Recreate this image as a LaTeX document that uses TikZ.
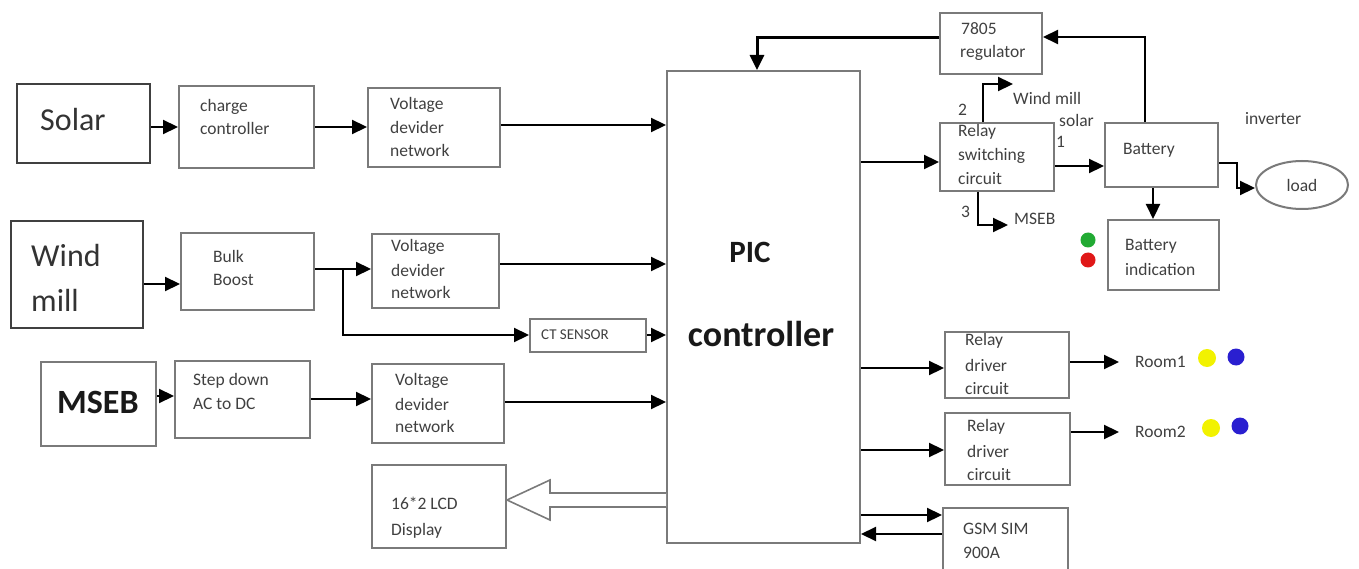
\documentclass[tikz,border=0pt]{standalone}
\usepackage{fontspec}
\setmainfont{Carlito}
\usetikzlibrary{arrows.meta,shapes.geometric}
\definecolor{txt}{HTML}{404040}
\definecolor{edge}{HTML}{7A7A7A}
\definecolor{dotgreen}{HTML}{22AA33}
\definecolor{dotred}{HTML}{E01818}
\definecolor{dotyellow}{HTML}{F2F200}
\definecolor{dotblue}{HTML}{2A1FD0}
\tikzset{
 box/.style={draw=edge, line width=2pt, inner sep=0pt, anchor=north west},
 bigbox/.style={draw=black!75, line width=2pt, inner sep=0pt, anchor=north west},
 lbl/.style={anchor=west, inner sep=0pt, text=txt, font=\fontsize{17.5}{20}\selectfont},
 biglbl/.style={anchor=west, inner sep=0pt, text=black!80, font=\fontsize{32}{36}\selectfont},
 arr/.style={line width=2.2pt, -{Triangle[length=15pt,width=14pt]}},
}
\begin{document}
\begin{tikzpicture}[x=1pt,y=-1pt]
\useasboundingbox (0,0) rectangle (1359,569);
% boxes
\node[bigbox, minimum width=133pt, minimum height=79pt] (solar) at (16,83) {};
\node[box, minimum width=135pt, minimum height=82pt] (cc) at (178,85) {};
\node[box, minimum width=132pt, minimum height=79pt] (vdn1) at (367,87) {};
\node[bigbox, minimum width=132pt, minimum height=107pt] (wind) at (10,220) {};
\node[box, minimum width=133pt, minimum height=77pt] (bulk) at (180,232) {};
\node[box, minimum width=127pt, minimum height=74pt] (vdn2) at (371,233) {};
\node[box, minimum width=116pt, minimum height=33pt] (ct) at (529,318) {};
\node[box, minimum width=115pt, minimum height=84pt] (mseb) at (40,361) {};
\node[box, minimum width=135pt, minimum height=77pt] (step) at (174,360) {};
\node[box, minimum width=132pt, minimum height=79pt] (vdn3) at (371,363) {};
\node[box, minimum width=134pt, minimum height=83pt] (lcd) at (371,464) {};
\node[box, minimum width=193pt, minimum height=472pt] (pic) at (666,70) {};
\node[box, minimum width=102pt, minimum height=61pt] (reg) at (939,12) {};
\node[box, minimum width=114pt, minimum height=68pt] (rsw) at (939,122) {};
\node[box, minimum width=113pt, minimum height=64pt] (bat) at (1104,122) {};
\node[draw=edge, line width=2pt, ellipse, minimum width=92pt, minimum height=48pt, inner sep=0pt] (load) at (1302,185) {};
\node[box, minimum width=111pt, minimum height=70pt] (bind) at (1107,219) {};
\node[box, minimum width=124pt, minimum height=66pt] (rd1) at (944,331) {};
\node[box, minimum width=125pt, minimum height=72pt] (rd2) at (944,412) {};
\node[box, minimum width=125pt, minimum height=66pt] (gsm) at (942,507) {};
% texts
\node[biglbl] (t-solar) at (40,120) {Solar};
\node[lbl] (t-cc1) at (200,107) {charge};
\node[lbl] (t-cc2) at (200,128) {controller};
\node[lbl] (t-v11) at (390,105) {Voltage};
\node[lbl] (t-v12) at (390,127) {devider};
\node[lbl] (t-v13) at (390,150) {network};
\node[biglbl] (t-wind1) at (31,255) {Wind};
\node[biglbl] (t-wind2) at (31,300) {mill};
\node[lbl] (t-b1) at (213,256) {Bulk};
\node[lbl] (t-b2) at (213,280) {Boost};
\node[lbl] (t-v21) at (391,247) {Voltage};
\node[lbl] (t-v22) at (391,270) {devider};
\node[lbl] (t-v23) at (391,292) {network};
\node[lbl, font=\fontsize{15}{18}\selectfont] (t-ct) at (541,335) {CT SENSOR};
\node[biglbl, text=black!90, font=\bfseries\fontsize{34}{38}\selectfont] (t-mseb) at (57,402) {MSEB};
\node[lbl] (t-s1) at (193,381) {Step down};
\node[lbl] (t-s2) at (193,404) {AC to DC};
\node[lbl] (t-v31) at (395,381) {Voltage};
\node[lbl] (t-v32) at (395,404) {devider};
\node[lbl] (t-v33) at (395,426) {network};
\node[lbl] (t-l1) at (391,503) {16*2 LCD};
\node[lbl] (t-l2) at (391,531) {Display};
\node[anchor=center, inner sep=0pt, text=black!90, font=\bfseries\fontsize{31}{34}\selectfont] (t-pic1) at (750,252) {PIC};
\node[anchor=center, inner sep=0pt, text=black!90, font=\bfseries\fontsize{36}{40}\selectfont] (t-pic2) at (761,334) {controller};
\node[lbl] (t-r1) at (961,29) {7805};
\node[lbl] (t-r2) at (960,53) {regulator};
\node[lbl] (t-rs1) at (958,132) {Relay};
\node[lbl] (t-rs2) at (958,156) {switching};
\node[lbl] (t-rs3) at (958,179) {circuit};
\node[lbl] (t-bat) at (1123,150) {Battery};
\node[lbl] (t-bi1) at (1125,246) {Battery};
\node[lbl] (t-bi2) at (1125,269) {indication};
\node[lbl, anchor=center] (t-load) at (1302,185) {load};
\node[lbl] (t-inv) at (1245,119) {inverter};
\node[lbl] (t-two) at (958,110) {2};
\node[lbl] (t-wm) at (1013,98) {Wind mill};
\node[lbl] (t-sol) at (1059,120) {solar};
\node[lbl] (t-one) at (1056,142) {1};
\node[lbl] (t-three) at (961,212) {3};
\node[lbl] (t-ms) at (1014,219) {MSEB};
\node[lbl] (t-d11) at (965,341) {Relay};
\node[lbl] (t-d12) at (965,365) {driver};
\node[lbl] (t-d13) at (965,389) {circuit};
\node[lbl] (t-d21) at (967,427) {Relay};
\node[lbl] (t-d22) at (967,451) {driver};
\node[lbl] (t-d23) at (967,475) {circuit};
\node[lbl] (t-g1) at (963,529) {GSM SIM};
\node[lbl] (t-g2) at (963,553) {900A};
\node[lbl] (room1) at (1135,362) {Room1};
\node[lbl] (room2) at (1135,432) {Room2};
% dots
\fill[dotgreen] (1088,240) circle (7.5);
\fill[dotred] (1088,260) circle (7.5);
\fill[dotyellow] (1207,358) circle (9);
\fill[dotblue] (1236,357) circle (8.5);
\fill[dotyellow] (1211,428) circle (9);
\fill[dotblue] (1240,426) circle (8.5);
% coordinates
\coordinate (j) at (343,269);
\coordinate (jb) at (343,335);
\coordinate (rc) at (757,38);
\coordinate (bc) at (1145,37);
\coordinate (r2) at (983,84);
\coordinate (r2e) at (1013,84);
\coordinate (r3) at (978,225);
\coordinate (r3e) at (1008,225);
\coordinate (lc1) at (1237,163);
\coordinate (lc2) at (1237,188);
% connectors left
\draw[arr] (solar.east|-0,127) -- (cc.west|-0,127);
\draw[arr] (cc.east|-0,127) -- (vdn1.west|-0,127);
\draw[arr] (vdn1.east|-0,125) -- (pic.west|-0,125);
\draw[arr] (wind.east|-0,284) -- (bulk.west|-0,284);
\draw[arr] (bulk.east|-j) -- (vdn2.west|-j);
\draw[arr] (j) -- (jb) -- (ct.west|-jb);
\draw[arr] (vdn2.east|-0,264) -- (pic.west|-0,264);
\draw[arr] (ct.east|-jb) -- (pic.west|-jb);
\draw[arr] (mseb.east|-0,396) -- (step.west|-0,396);
\draw[arr] (step.east|-0,399) -- (vdn3.west|-0,399);
\draw[arr] (vdn3.east|-0,402) -- (pic.west|-0,402);
\draw[draw=edge, line width=1.6pt, fill=white] (pic.west|-0,493) -- (550,493) -- (550,480) -- (lcd.east|-0,500) -- (550,520) -- (550,507) -- (pic.west|-0,507);
% connectors right
\draw[arr] (pic.east|-0,162) -- (rsw.west|-0,162);
\draw[arr, line width=3pt] (reg.west|-rc) -- (rc) -- (rc|-pic.north);
\draw[arr] (bc|-bat.north) -- (bc) -- (reg.east|-bc);
\draw[arr] (rsw.east|-0,166) -- (bat.west|-0,166);
\draw[arr] (r2|-rsw.north) -- (r2) -- (r2e);
\draw[arr] (r3|-rsw.south) -- (r3) -- (r3e);
\draw[arr] (bat.east|-lc1) -- (lc1) -- (lc2) -- (load.west|-lc2);
\draw[arr] (bat.south-|1153,0) -- (bind.north-|1153,0);
\draw[arr] (pic.east|-0,368) -- (rd1.west|-0,368);
\draw[arr] (pic.east|-0,450) -- (rd2.west|-0,450);
\draw[arr, shorten >=16pt] (rd1.east|-room1) -- (room1.west);
\draw[arr, shorten >=16pt] (rd2.east|-room2) -- (room2.west);
\draw[arr] (pic.east|-0,515) -- (gsm.west|-0,515);
\draw[arr] (gsm.west|-0,534) -- (pic.east|-0,534);
\end{tikzpicture}
\end{document}
